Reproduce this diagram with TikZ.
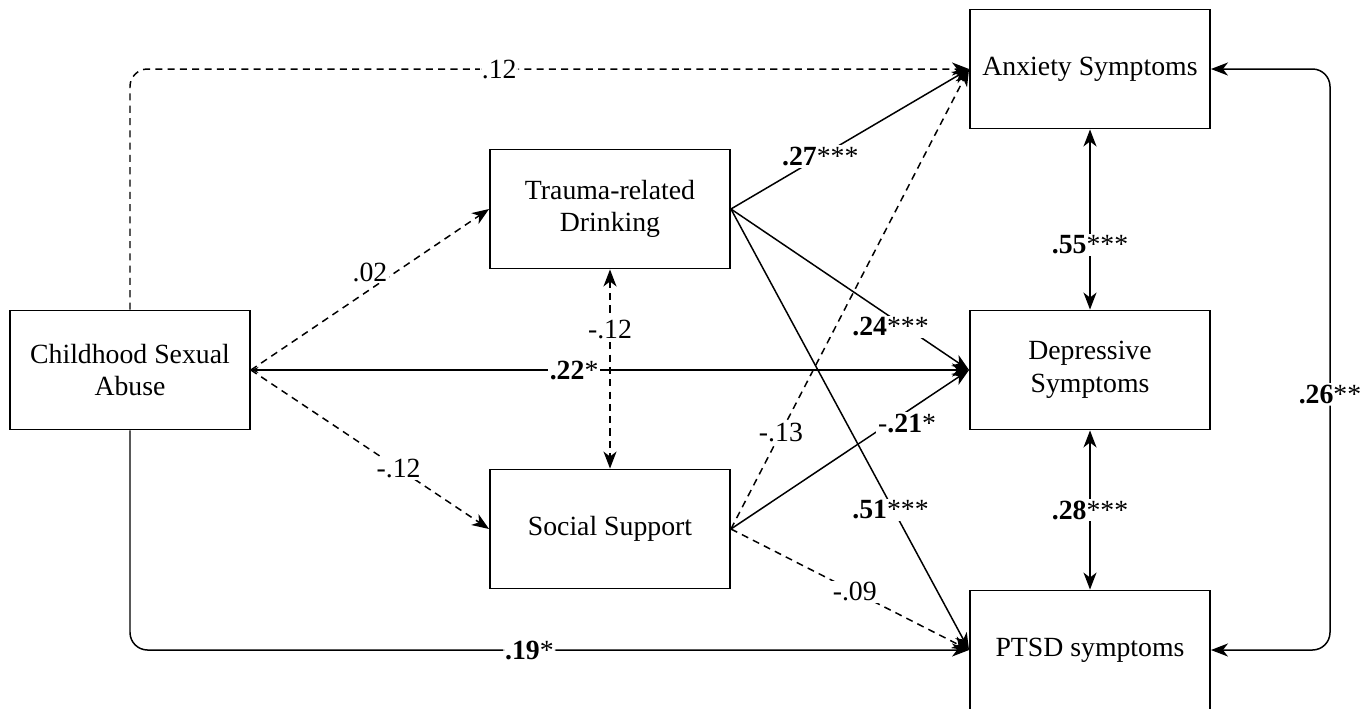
\documentclass[tikz,border=0pt]{standalone}
\usepackage{fontspec}
\setmainfont{Liberation Serif}
\usetikzlibrary{arrows.meta}

\begin{document}
\begin{tikzpicture}[x=0.02cm, y=-0.02cm,
  box/.style={draw, line width=1.1pt, minimum width=4.8cm, minimum height=2.38cm, align=center, font=\fontsize{15.8}{18.5}\selectfont},
  lbl/.style={fill=white, inner sep=1pt, font=\fontsize{15.8}{18.5}\selectfont},
  dashline/.style={dash pattern=on 4pt off 3pt},
  >={Stealth[length=0.34cm, width=0.26cm, inset=0.1cm]},
  every path/.style={line width=0.85pt}]
\useasboundingbox (0,0) rectangle (1363,708);
\node[box] (CSA) at (130,370) {Childhood Sexual\\Abuse};
\node[box] (TRD) at (610,209) {Trauma-related\\Drinking};
\node[box] (SS) at (610,529) {Social Support};
\node[box] (AS) at (1090,69) {Anxiety Symptoms};
\node[box] (DS) at (1090,370) {Depressive\\Symptoms};
\node[box] (PS) at (1090,650) {PTSD symptoms};
\coordinate (RB) at (1330,0);
% childhood sexual abuse paths
\draw[->, dashline, rounded corners=10] (CSA.north) |- node[lbl, pos=0.72] {.12} (AS.west);
\draw[->, dashline] (CSA.east) -- node[lbl, pos=0.5, above=3pt] {.02} (TRD.west);
\draw[{Stealth[length=0.15cm, width=0.12cm]}->] (CSA.east) -- node[lbl, pos=0.45] {\textbf{.22}*} (DS.west);
\draw[->, dashline] (CSA.east) -- node[lbl, pos=0.62] {-.12} (SS.west);
\draw[->, rounded corners=10] (CSA.south) |- node[lbl, pos=0.738] {\textbf{.19}*} (PS.west);
% mediators
\draw[<->, dashline] (TRD.south) -- node[lbl, pos=0.3] {-.12} (SS.north);
\draw[->] (TRD.east) -- node[lbl, pos=0.375] {\textbf{.27}***} (AS.west);
\draw[->] (TRD.east) -- node[lbl, pos=0.67, yshift=-5.7pt] {\textbf{.24}***} (DS.west);
\draw[->] (TRD.east) -- node[lbl, pos=0.67, yshift=-3pt] {\textbf{.51}***} (PS.west);
\draw[->, dashline] (SS.east) -- node[lbl, pos=0.21] {-.13} (AS.west);
\draw[->] (SS.east) -- node[lbl, pos=0.74, yshift=-6.8pt] {-\textbf{.21}*} (DS.west);
\draw[->, dashline] (SS.east) -- node[lbl, pos=0.52] {-.09} (PS.west);
% outcome covariances
\draw[<->] (AS.south) -- node[lbl, pos=0.64] {\textbf{.55}***} (DS.north);
\draw[<->] (DS.south) -- node[lbl, pos=0.5] {\textbf{.28}***} (PS.north);
\draw[<->, rounded corners=10] (AS.east) -- (AS.east -| RB) -- node[lbl, pos=0.56] {\textbf{.26}**} (PS.east -| RB) -- (PS.east);
\end{tikzpicture}
\end{document}
